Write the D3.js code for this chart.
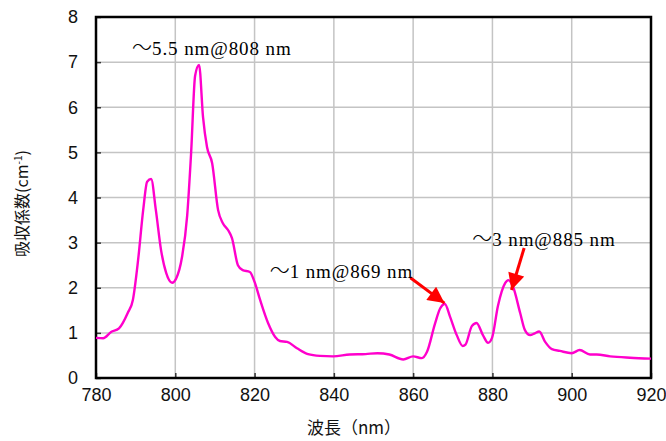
<!DOCTYPE html>
<html>
<head>
<meta charset="utf-8">
<script src="https://cdn.jsdelivr.net/npm/d3@7"></script>
<style>
  html, body { margin: 0; padding: 0; background: #fff; }
  svg { display: block; }
</style>
</head>
<body>
<svg id="chart" width="666" height="441"></svg>
<script>
// Absorption spectrum: wavelength (nm) and absorption coefficient (cm^-1)
const wavelength = [780, 781.8, 783.8, 785.8, 788, 789.3, 790.6, 791.9, 792.9, 793.9,
  795.1, 796.4, 797.7, 799.2, 800.2, 801.7, 803, 804, 805, 806,
  807, 808, 809.3, 810.8, 812, 813.3, 814.3, 815.8, 817, 818.8,
  820, 821.4, 823.4, 825.2, 826.4, 828.2, 830.7, 833.5, 836.5, 839.8,
  844, 848, 851, 854, 857.5, 860, 862.2, 863.5, 865.5, 866.8,
  868, 869.3, 871, 872.5, 873.2, 874.8, 876, 877.6, 878.9, 879.9,
  881.4, 883.2, 884, 885.2, 887, 888.2, 889.5, 890.7, 891.8, 893.3,
  895, 897, 900, 902, 904.6, 906.3, 909.7, 914.7, 920];
const absorption = [0.89, 0.88, 1.02, 1.1, 1.44, 1.73, 2.6, 3.72, 4.35, 4.41,
  3.72, 2.84, 2.33, 2.11, 2.2, 2.68, 3.6, 5.0, 6.7, 6.94,
  5.78, 5.12, 4.76, 3.72, 3.43, 3.28, 3.1, 2.5, 2.39, 2.35,
  2.13, 1.73, 1.22, 0.91, 0.82, 0.8, 0.66, 0.53, 0.49, 0.48,
  0.52, 0.53, 0.55, 0.52, 0.41, 0.48, 0.44, 0.58, 1.2, 1.54,
  1.64, 1.36, 0.95, 0.71, 0.74, 1.15, 1.22, 0.95, 0.78, 0.89,
  1.6, 2.1, 2.17, 2.02, 1.44, 1.06, 0.95, 0.99, 1.03, 0.8,
  0.64, 0.6, 0.55, 0.62, 0.52, 0.52, 0.48, 0.45, 0.43];

const xTicks = [780, 800, 820, 840, 860, 880, 900, 920];
const yTicks = [0, 1, 2, 3, 4, 5, 6, 7, 8];

// Peak annotations: label text and its anchor (nm, value)
const noteText = ["5.5 nm@808 nm", "1 nm@869 nm", "3 nm@885 nm"];
const noteX = [789.1, 823.8, 874.9];
const noteY = [7.16, 2.22, 2.93];

// Arrows from label to peak (nm, value)
const arrowFromX = [859.3, 888.0];
const arrowFromY = [2.22, 2.88];
const arrowToX = [867.9, 884.8];
const arrowToY = [1.66, 1.95];

const svg = d3.select("#chart");
const plotL = 96, plotR = 651, plotT = 17, plotB = 378;

const x = d3.scaleLinear().domain([780, 920]).range([plotL, plotR]);
const y = d3.scaleLinear().domain([0, 8]).range([plotB, plotT]);

// Grid
const grid = svg.append("g");
grid.selectAll("line.v").data(xTicks.slice(1, -1)).join("line")
  .attr("class", "v")
  .attr("x1", d => x(d)).attr("x2", d => x(d))
  .attr("y1", plotT).attr("y2", plotB)
  .attr("stroke", "#c4c4c4").attr("stroke-width", 1.5);
grid.selectAll("line.h").data(yTicks.slice(1, -1)).join("line")
  .attr("class", "h")
  .attr("x1", plotL).attr("x2", plotR)
  .attr("y1", d => y(d)).attr("y2", d => y(d))
  .attr("stroke", "#c4c4c4").attr("stroke-width", 1.5);

// Axes with inward ticks
const xAxis = svg.append("g").attr("transform", `translate(0,${plotB})`)
  .call(d3.axisBottom(x).tickValues(xTicks).tickSizeInner(-5).tickSizeOuter(0).tickPadding(10));
const yAxis = svg.append("g").attr("transform", `translate(${plotL},0)`)
  .call(d3.axisLeft(y).tickValues(yTicks).tickSizeInner(-5).tickSizeOuter(0).tickPadding(18));
[xAxis, yAxis].forEach(a => {
  a.select(".domain").remove();
  a.selectAll(".tick line").attr("stroke", "#333").attr("stroke-width", 1.5);
  a.selectAll(".tick text")
    .attr("font-family", "'Liberation Sans', Arial, sans-serif")
    .attr("font-size", 18).attr("fill", "#111");
});

// Frame
svg.append("rect")
  .attr("x", plotL).attr("y", plotT)
  .attr("width", plotR - plotL).attr("height", plotB - plotT)
  .attr("fill", "none").attr("stroke", "#000").attr("stroke-width", 2.5);

// Spectrum
const pts = wavelength.map((w, i) => [w, absorption[i]]);
const line = d3.line().x(d => x(d[0])).y(d => y(d[1])).curve(d3.curveMonotoneX);
svg.append("path").datum(pts)
  .attr("d", line)
  .attr("fill", "none").attr("stroke", "#ff00cc").attr("stroke-width", 2.4)
  .attr("stroke-linejoin", "round");

// Arrows
const defs = svg.append("defs");
defs.append("marker").attr("id", "head")
  .attr("viewBox", "0 0 10 10").attr("refX", 10).attr("refY", 5)
  .attr("markerWidth", 6).attr("markerHeight", 5.5).attr("orient", "auto")
  .attr("markerUnits", "strokeWidth")
  .append("path").attr("d", "M0,0 L10,5 L0,10 Z").attr("fill", "#ff0000");
svg.selectAll("line.arrow").data(arrowFromX).join("line")
  .attr("class", "arrow")
  .attr("x1", (d, i) => x(arrowFromX[i])).attr("y1", (d, i) => y(arrowFromY[i]))
  .attr("x2", (d, i) => x(arrowToX[i])).attr("y2", (d, i) => y(arrowToY[i]))
  .attr("stroke", "#ff0000").attr("stroke-width", 3)
  .attr("marker-end", "url(#head)");

// Labels: wide wave dash followed by the serif value text
const notes = svg.selectAll("text.note").data(noteText).join("text")
  .attr("class", "note")
  .attr("x", (d, i) => x(noteX[i])).attr("y", (d, i) => y(noteY[i]))
  .attr("font-size", 19).attr("fill", "#000");
notes.append("tspan")
  .attr("font-family", "'Noto Sans CJK JP', sans-serif")
  .attr("font-weight", 300)
  .attr("font-size", 20)
  .text("～");
notes.append("tspan")
  .attr("font-family", "'Liberation Serif', 'Times New Roman', serif")
  .attr("letter-spacing", 0.9)
  .text(d => d);

// Axis titles
svg.append("text")
  .attr("x", 354).attr("y", 434)
  .attr("text-anchor", "middle")
  .attr("font-family", "'Noto Sans CJK JP', sans-serif")
  .attr("font-size", 17).attr("fill", "#111")
  .text("波長（nm）");

const yt = svg.append("text")
  .attr("transform", `translate(28,${(plotT + plotB) / 2 + 6}) rotate(-90)`)
  .attr("text-anchor", "middle")
  .attr("font-family", "'Noto Sans CJK JP', sans-serif")
  .attr("font-size", 16).attr("fill", "#111");
yt.append("tspan").text("吸収係数(cm");
yt.append("tspan").attr("dy", -6).attr("font-size", 10).text("-1");
yt.append("tspan").attr("dy", 6).text(")");
</script>
</body>
</html>
